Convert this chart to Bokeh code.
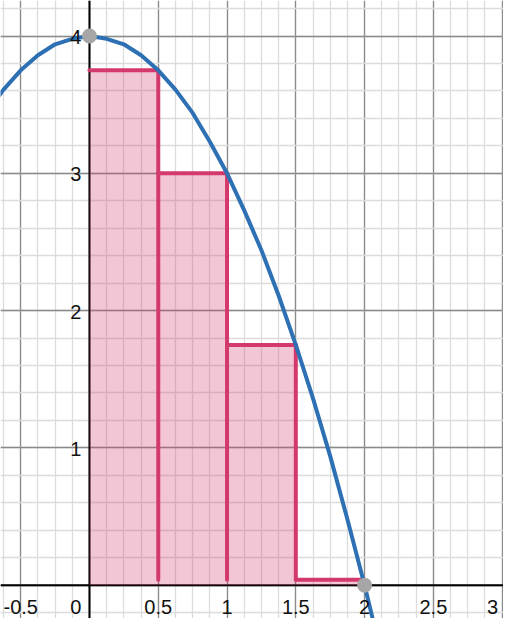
from bokeh.plotting import figure
from bokeh.models import FixedTicker, Span
from bokeh.core.properties import value
from bokeh.embed import file_html
from bokeh.resources import INLINE
import numpy as np

# ---- data ----
# curve samples (x, y)
curve_x = [-0.75, -0.625, -0.5, -0.375, -0.25, -0.125, 0.0, 0.125, 0.25, 0.375, 0.5,
           0.625, 0.75, 0.875, 1.0, 1.125, 1.25, 1.375, 1.5, 1.625, 1.75, 1.875,
           2.0, 2.125, 2.25]
curve_y = [3.44, 3.61, 3.75, 3.86, 3.94, 3.98, 4.0, 3.98, 3.94, 3.86, 3.75,
           3.61, 3.44, 3.23, 3.0, 2.73, 2.44, 2.11, 1.75, 1.36, 0.94, 0.48,
           0.0, -0.52, -1.06]
# rectangles
rect_left = [0.0, 0.5, 1.0, 1.5]
rect_right = [0.5, 1.0, 1.5, 2.0]
rect_height = [3.75, 3.0, 1.75, 0.04]
rect_base = 0.04
# marked points
pt_x = [0.0, 2.0]
pt_y = [4.0, 0.0]
# tick labels
xlab_pos = [-0.5, 0.5, 1.0, 1.5, 2.0, 2.5]
xlab_txt = ["-0.5", "0.5", "1", "1.5", "2", "2.5"]
xlab_last_pos = [3.0]
xlab_last_txt = ["3"]
ylab_pos = [1, 2, 3, 4]
ylab_txt = ["1", "2", "3", "4"]

BLUE = "#2d70b3"
MAG = "#d33a6b"
FONT = "Liberation Sans"
FS = "20px"
TC = "#111111"

p = figure(width=503, height=618, x_range=(-0.647, 3.01), y_range=(-0.243, 4.259),
           output_backend="svg", toolbar_location=None, min_border=0,
           background_fill_color="white", border_fill_color="white")
p.outline_line_color = None
p.xaxis.visible = False
p.yaxis.visible = False

# grid
p.xgrid.ticker = FixedTicker(ticks=list(np.arange(-0.5, 3.01, 0.5)),
                             minor_ticks=list(np.arange(-0.625, 3.01, 0.125)))
p.ygrid.ticker = FixedTicker(ticks=list(np.arange(0, 4.01, 1.0)),
                             minor_ticks=list(np.arange(-0.2, 4.3, 0.2)))
for g in (p.xgrid, p.ygrid):
    g.grid_line_color = "#8a8a8a"
    g.grid_line_width = 1.3
    g.minor_grid_line_color = "#dcdcdc"
    g.minor_grid_line_width = 1.3

# axes
p.add_layout(Span(location=0, dimension="height", line_color="black", line_width=2, level="underlay"))
p.add_layout(Span(location=0, dimension="width", line_color="black", line_width=2, level="underlay"))

# rectangle fills
p.quad(left=rect_left, right=rect_right, bottom=0, top=rect_height,
       fill_color=MAG, fill_alpha=0.29, line_color=None)

# rectangle outlines: tops and right edges
p.segment(x0=rect_left, y0=rect_height, x1=rect_right, y1=rect_height,
          line_color=MAG, line_width=4, line_cap="round")
p.segment(x0=rect_right, y0=rect_height, x1=rect_right, y1=[rect_base] * len(rect_right),
          line_color=MAG, line_width=4, line_cap="round")

# curve
p.line(curve_x, curve_y, line_color=BLUE, line_width=4, line_cap="round", line_join="round")

# tick labels
p.text(x=xlab_pos, y=[0] * len(xlab_pos), text=xlab_txt, text_align="center",
       text_baseline="middle", y_offset=22, text_font=value(FONT),
       text_font_size=FS, text_color=TC)
p.text(x=xlab_last_pos, y=[0], text=xlab_last_txt, text_align="right",
       text_baseline="middle", x_offset=-4, y_offset=22, text_font=value(FONT),
       text_font_size=FS, text_color=TC)
p.text(x=[0], y=[0], text=["0"], text_align="right", text_baseline="middle",
       x_offset=-8, y_offset=22, text_font=value(FONT),
       text_font_size=FS, text_color=TC)
p.text(x=[0] * len(ylab_pos), y=ylab_pos, text=ylab_txt, text_align="right",
       text_baseline="middle", x_offset=-8, y_offset=1, text_font=value(FONT),
       text_font_size=FS, text_color=TC)

# points
p.scatter(pt_x, pt_y, size=15, fill_color="#a6a6a6", line_color=None)

open("out.html", "w").write(file_html(p, INLINE))
